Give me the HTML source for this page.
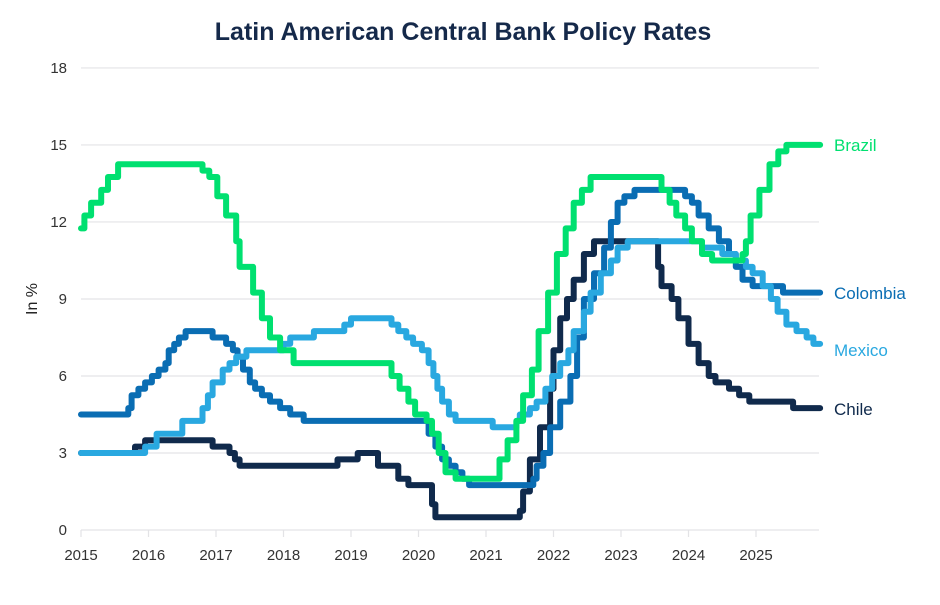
<!DOCTYPE html>
<html><head><meta charset="utf-8"><style>
body{margin:0;background:#fff;}
svg text{font-family:"Liberation Sans",sans-serif;}
</style></head><body>
<svg id="s" width="940" height="600" xmlns="http://www.w3.org/2000/svg">
<text x="463" y="40" text-anchor="middle" font-size="25" font-weight="bold" fill="#15294a">Latin American Central Bank Policy Rates</text>
<g id="grid" stroke="#e3e3e6" stroke-width="1.2"></g>
<g id="ylab" font-size="15" fill="#333" text-anchor="end"></g>
<g id="xlab" font-size="15" fill="#333" text-anchor="middle"></g>
<text transform="translate(37,299) rotate(-90)" text-anchor="middle" font-size="16" fill="#222">In %</text>
<g id="lines" fill="none" stroke-width="6" stroke-linejoin="round" stroke-linecap="round"></g>
<g font-size="17">
<text x="834" y="151" fill="#00e070">Brazil</text>
<text x="834" y="299" fill="#0a6db3">Colombia</text>
<text x="834" y="356" fill="#29a8e0">Mexico</text>
<text x="834" y="415" fill="#102a4c">Chile</text>
</g>
</svg>
<script>
var X=t=>81+67.5*(t-2015), Y=v=>530-25.67*v;
var g=document.getElementById('grid'),yl=document.getElementById('ylab'),xl=document.getElementById('xlab'),ns='http://www.w3.org/2000/svg';
function el(p,n,a,txt){var e=document.createElementNS(ns,n);for(var k in a)e.setAttribute(k,a[k]);if(txt!=null)e.textContent=txt;p.appendChild(e);return e;}
for(var v=0;v<=18;v+=3){el(g,'line',{x1:81,x2:819,y1:Y(v),y2:Y(v)});el(yl,'text',{x:67,y:Y(v)+5},v);}
for(var y=2015;y<=2025;y++){el(g,'line',{x1:X(y),x2:X(y),y1:530,y2:537});el(xl,'text',{x:X(y),y:560},y);}
var E=2025.95;
var S={
chile:["#102a4c",[[2015,3],[2015.8,3.25],[2015.95,3.5],[2016.95,3.25],[2017.2,3],[2017.28,2.75],[2017.35,2.5],[2018.8,2.75],[2019.1,3],[2019.4,2.5],[2019.7,2],[2019.85,1.75],[2020.2,1],[2020.25,0.5],[2021.5,0.75],[2021.55,1.5],[2021.65,2.75],[2021.8,4],[2021.95,5.5],[2022.0,7],[2022.1,8.25],[2022.2,9],[2022.3,9.75],[2022.45,10.75],[2022.6,11.25],[2023.55,10.25],[2023.6,9.5],[2023.75,9],[2023.85,8.25],[2024.0,7.25],[2024.15,6.5],[2024.3,6],[2024.4,5.75],[2024.6,5.5],[2024.75,5.25],[2024.9,5],[2025.55,4.75]]],
colombia:["#0a6db3",[[2015,4.5],[2015.7,4.75],[2015.75,5.25],[2015.85,5.5],[2015.95,5.75],[2016.05,6],[2016.15,6.25],[2016.25,6.5],[2016.3,7],[2016.38,7.25],[2016.45,7.5],[2016.55,7.75],[2016.95,7.5],[2017.15,7.25],[2017.25,7],[2017.32,6.75],[2017.4,6.25],[2017.5,5.75],[2017.58,5.5],[2017.68,5.25],[2017.8,5],[2017.95,4.75],[2018.1,4.5],[2018.3,4.25],[2020.15,3.75],[2020.25,3.25],[2020.35,2.75],[2020.45,2.5],[2020.55,2.25],[2020.65,2],[2020.75,1.75],[2021.7,2],[2021.75,2.5],[2021.85,3],[2021.95,4],[2022.1,5],[2022.25,6],[2022.35,7.5],[2022.45,9],[2022.6,10],[2022.75,11],[2022.85,12],[2022.95,12.75],[2023.05,13],[2023.2,13.25],[2023.95,13],[2024.05,12.75],[2024.15,12.25],[2024.3,11.75],[2024.45,11.25],[2024.6,10.75],[2024.7,10.25],[2024.8,9.75],[2024.95,9.5],[2025.4,9.25]]],
mexico:["#29a8e0",[[2015,3],[2015.95,3.25],[2016.12,3.75],[2016.5,4.25],[2016.8,4.75],[2016.88,5.25],[2016.95,5.75],[2017.1,6.25],[2017.2,6.5],[2017.3,6.75],[2017.45,7],[2018.0,7.25],[2018.1,7.5],[2018.45,7.75],[2018.9,8],[2019.0,8.25],[2019.6,8],[2019.7,7.75],[2019.82,7.5],[2019.92,7.25],[2020.05,7],[2020.15,6.5],[2020.22,6],[2020.28,5.5],[2020.35,5],[2020.45,4.5],[2020.55,4.25],[2021.1,4],[2021.45,4.25],[2021.5,4.5],[2021.65,4.75],[2021.75,5],[2021.88,5.5],[2021.98,6],[2022.1,6.5],[2022.22,7],[2022.3,7.75],[2022.45,8.5],[2022.55,9.25],[2022.7,10],[2022.85,10.5],[2022.95,11],[2023.1,11.25],[2024.2,11],[2024.5,10.75],[2024.7,10.5],[2024.85,10.25],[2024.95,10],[2025.1,9.5],[2025.22,9],[2025.32,8.5],[2025.45,8],[2025.6,7.75],[2025.75,7.5],[2025.85,7.25]]],
brazil:["#00e070",[[2015,11.75],[2015.05,12.25],[2015.15,12.75],[2015.3,13.25],[2015.4,13.75],[2015.55,14.25],[2016.8,14],[2016.9,13.75],[2017.02,13],[2017.15,12.25],[2017.3,11.25],[2017.35,10.25],[2017.55,9.25],[2017.68,8.25],[2017.8,7.5],[2017.95,7],[2018.15,6.5],[2019.6,6],[2019.72,5.5],[2019.85,5],[2019.95,4.5],[2020.12,4.25],[2020.2,3.75],[2020.3,3],[2020.4,2.25],[2020.55,2],[2021.2,2.75],[2021.32,3.5],[2021.45,4.25],[2021.55,5.25],[2021.68,6.25],[2021.78,7.75],[2021.92,9.25],[2022.05,10.75],[2022.18,11.75],[2022.3,12.75],[2022.42,13.25],[2022.55,13.75],[2023.6,13.25],[2023.72,12.75],[2023.82,12.25],[2023.95,11.75],[2024.05,11.25],[2024.2,10.75],[2024.35,10.5],[2024.8,10.75],[2024.85,11.25],[2024.92,12.25],[2025.05,13.25],[2025.2,14.25],[2025.33,14.75],[2025.45,15]]]
};
var L=document.getElementById('lines');
["chile","colombia","mexico","brazil"].forEach(function(k){var c=S[k][0],d=S[k][1],p="M"+X(d[0][0])+","+Y(d[0][1]);
for(var i=1;i<d.length;i++){p+=" H"+X(d[i][0]).toFixed(1)+" V"+Y(d[i][1]).toFixed(1);}
p+=" H"+X(E);el(L,'path',{d:p,stroke:c});});
</script>
</body></html>
